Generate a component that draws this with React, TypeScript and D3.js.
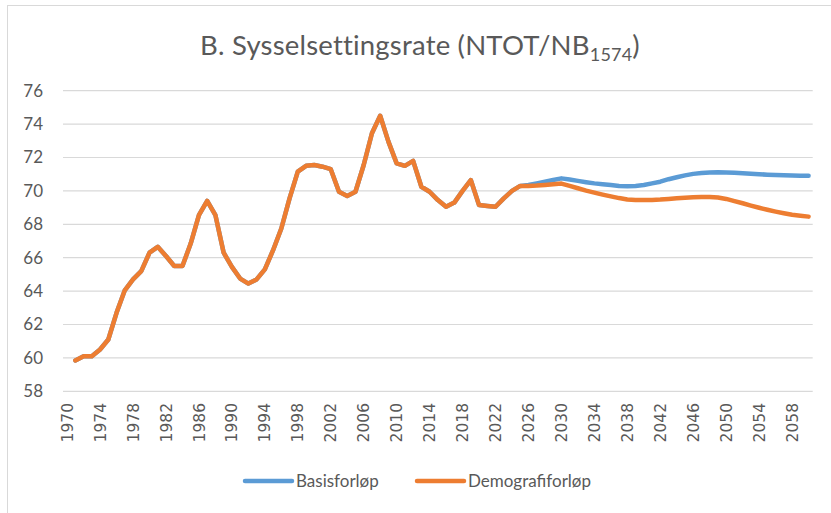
import React, { useRef, useEffect } from 'react'
import * as d3 from 'd3'

// kategorier på x-aksen: 1970-2060, data fra 1971
const years = d3.range(1970, 2061)
const dataYears = d3.range(1971, 2061)
const tickYears = d3.range(1970, 2061, 4)
const yTicks = [58, 60, 62, 64, 66, 68, 70, 72, 74, 76]

// historikk 1971-2025 (felles for begge forløp)
const historikk = [
    59.85, 60.1, 60.1, 60.5, 61.1, 62.7, 64.05, 64.7, 65.2, 66.3,
    66.65, 66.1, 65.5, 65.5, 66.85, 68.55, 69.4, 68.55, 66.3, 65.45,
    64.75, 64.45, 64.7, 65.3, 66.45, 67.75, 69.55, 71.15, 71.5, 71.55,
    71.45, 71.3, 69.95, 69.7, 69.95, 71.55, 73.45, 74.5, 72.95, 71.65,
    71.5, 71.8, 70.25, 69.95, 69.45, 69.05, 69.3, 70.0, 70.65, 69.15,
    69.1, 69.05, 69.55, 70.0, 70.3,
]

// framskrivinger 2026-2060
const basisProj = [
    70.35, 70.45, 70.55, 70.65, 70.75, 70.68, 70.6, 70.52, 70.45, 70.4,
    70.35, 70.3, 70.28, 70.3, 70.35, 70.45, 70.55, 70.7, 70.82, 70.93,
    71.02, 71.07, 71.1, 71.11, 71.1, 71.08, 71.05, 71.02, 71.0, 70.97,
    70.95, 70.93, 70.92, 70.91, 70.91,
]
const demografiProj = [
    70.3, 70.32, 70.36, 70.4, 70.44, 70.3, 70.16, 70.02, 69.9, 69.78,
    69.67, 69.57, 69.49, 69.46, 69.45, 69.46, 69.48, 69.52, 69.56, 69.59,
    69.62, 69.64, 69.64, 69.6, 69.52, 69.39, 69.26, 69.12, 68.99, 68.87,
    68.76, 68.66, 68.57, 68.51, 68.46,
]

const seriesNames = ['Basisforløp', 'Demografiforløp']
const seriesColors = ['#5B9BD5', '#ED7D31']

const Chart = () => {
    const svgRef = useRef<SVGSVGElement>(null)

    useEffect(() => {
        const svg = d3.select(svgRef.current)
        const width = 831
        const height = 513
        const margin = { top: 90.7, right: 18.3, bottom: 121.7, left: 63 }
        const font = 'Lato, "Open Sans", sans-serif'
        const textColor = '#595959'

        svg.selectAll('*').remove()

        // ramme
        svg.append('rect')
            .attr('x', 7.5)
            .attr('y', 5.5)
            .attr('width', 900)
            .attr('height', 700)
            .attr('fill', '#fff')
            .attr('stroke', '#D9D9D9')

        const xScale = d3
            .scaleBand<number>()
            .domain(years)
            .range([margin.left, width - margin.right])
        const xPos = (yr: number) => (xScale(yr) as number) + xScale.bandwidth() / 2

        const yScale = d3
            .scaleLinear()
            .domain([58, 76])
            .range([height - margin.bottom, margin.top])

        // gridlines
        svg.append('g')
            .selectAll('line')
            .data(yTicks)
            .enter()
            .append('line')
            .attr('x1', margin.left)
            .attr('x2', width - margin.right)
            .attr('y1', (d) => yScale(d))
            .attr('y2', (d) => yScale(d))
            .attr('stroke', '#D9D9D9')
            .attr('stroke-width', 1.2)

        // y-akse
        svg.append('g')
            .selectAll('text')
            .data(yTicks)
            .enter()
            .append('text')
            .attr('x', 43)
            .attr('y', (d) => yScale(d))
            .attr('dy', '0.35em')
            .attr('text-anchor', 'end')
            .style('font-family', font)
            .style('font-size', '17px')
            .style('fill', textColor)
            .text((d) => d)

        // x-akse
        svg.append('g')
            .selectAll('text')
            .data(tickYears)
            .enter()
            .append('text')
            .attr('transform', (d) => `translate(${xPos(d)}, 403) rotate(-90)`)
            .attr('dy', '0.36em')
            .attr('text-anchor', 'end')
            .style('font-family', '"DejaVu Sans", sans-serif')
            .style('font-size', '15.5px')
            .style('fill', textColor)
            .text((d) => d)

        const series = [historikk.concat(basisProj), historikk.concat(demografiProj)]

        const line = d3
            .line<number>()
            .x((_, i) => xPos(dataYears[i]))
            .y((d) => yScale(d))

        series.forEach((values, i) => {
            svg.append('path')
                .datum(values)
                .attr('fill', 'none')
                .attr('stroke', seriesColors[i])
                .attr('stroke-width', 4.5)
                .attr('stroke-linejoin', 'round')
                .attr('stroke-linecap', 'round')
                .attr('d', line)
        })

        // tittel
        const title = svg.append('text')
            .attr('x', 420)
            .attr('y', 55)
            .attr('text-anchor', 'middle')
            .style('font-family', font)
            .style('letter-spacing', '0.2px')
            .style('font-size', '27.5px')
            .style('fill', textColor)
        title.append('tspan').text('B. Sysselsettingsrate (NTOT/NB')
        title.append('tspan').attr('dy', 6).style('font-size', '18px').text('1574')
        title.append('tspan').attr('dy', -6).text(')')

        // legend
        const legendX = [245, 417]
        seriesNames.forEach((name, i) => {
            const g = svg.append('g').attr('transform', `translate(${legendX[i]}, 481)`)
            g.append('line')
                .attr('x1', 0)
                .attr('x2', 47)
                .attr('stroke', seriesColors[i])
                .attr('stroke-width', 4.5)
                .attr('stroke-linecap', 'round')
            g.append('text')
                .attr('x', 51)
                .attr('dy', '0.35em')
                .style('font-family', font)
                .style('font-size', '17px')
                .style('fill', textColor)
                .text(name)
        })
    }, [])

    return (
        <svg
            ref={svgRef}
            width={831}
            height={513}
            style={{ position: 'absolute', left: 0, top: 0, background: '#fff' }}
        />
    )
}

export default function App() {
    return <Chart />
}
